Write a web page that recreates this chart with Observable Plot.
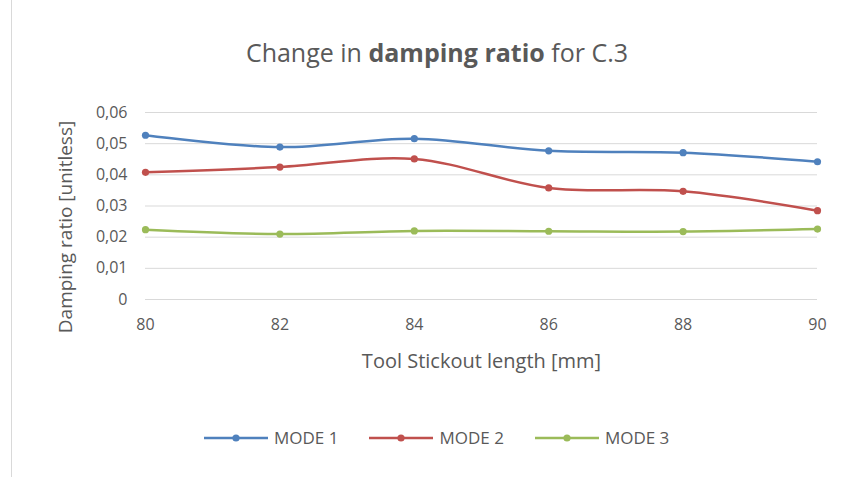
<!DOCTYPE html>
<html><head><meta charset="utf-8">
<script src="https://cdn.jsdelivr.net/npm/d3@7"></script>
<script src="https://cdn.jsdelivr.net/npm/@observablehq/plot@0.6"></script>
<style>
body{margin:0;background:#fff;font-family:"Open Sans",sans-serif;}
#wrap{position:relative;width:852px;height:477px;overflow:hidden;}
#border{position:absolute;left:11px;top:0;width:1px;height:477px;background:#d9d9d9;}
#title{position:absolute;top:35px;left:11px;width:852px;text-align:center;font-size:25px;line-height:34px;color:#595959;}
#chart{position:absolute;top:85px;left:0;}
#legend{position:absolute;top:426px;left:204px;display:flex;gap:31px;font-size:17px;line-height:24px;color:#595959;}
.item{display:flex;align-items:center;gap:6px;}
</style></head><body>
<div id="wrap"><div id="border"></div>
<div id="title">Change in <b>damping ratio</b> for C.3</div>
<div id="chart"></div>
<div id="legend"></div>
</div>
<script>
const lengths = [80, 82, 84, 86, 88, 90];
const mode1 = [0.0527, 0.0489, 0.0516, 0.0477, 0.0471, 0.0442];
const mode2 = [0.0408, 0.0425, 0.0451, 0.0358, 0.0347, 0.0285];
const mode3 = [0.0224, 0.0210, 0.0220, 0.0219, 0.0218, 0.0226];
const seriesNames = ["MODE 1", "MODE 2", "MODE 3"];
const colors = ["#4F81BD", "#C0504D", "#9BBB59"];
const yTicks = [0, 0.01, 0.02, 0.03, 0.04, 0.05, 0.06];
const xTicks = [80, 82, 84, 86, 88, 90];

const all = [mode1, mode2, mode3];
const data = [];
all.forEach((arr, i) => arr.forEach((v, j) => data.push({x: lengths[j], y: v, s: seriesNames[i]})));

const fmt = d => d === 0 ? "0" : d.toFixed(2).replace(".", ",");

const chart = Plot.plot({
  width: 852, height: 310,
  marginLeft: 145, marginRight: 35, marginTop: 27, marginBottom: 96,
  style: {fontFamily: "Open Sans, sans-serif", fontSize: "16px", color: "#595959", background: "transparent", overflow: "visible"},
  x: {domain: [80, 90], ticks: xTicks, tickSize: 0, tickPadding: 19, label: "Tool Stickout length [mm]", labelAnchor: "center", labelOffset: 68, tickFormat: d => String(d)},
  y: {domain: [0, 0.06], ticks: yTicks, tickSize: 0, tickPadding: 18, tickFormat: fmt, label: "Damping ratio [unitless]", labelAnchor: "center", labelOffset: 87},
  color: {domain: seriesNames, range: colors},
  marks: [
    Plot.gridY(yTicks, {stroke: "#d9d9d9", strokeOpacity: 1, strokeWidth: 1}),
    Plot.line(data, {x: "x", y: "y", stroke: "s", z: "s", strokeWidth: 2.5, curve: "catmull-rom"}),
    Plot.dot(data, {x: "x", y: "y", fill: "s", r: 3.6})
  ]
});
chart.querySelectorAll("g[aria-label='x-axis label'] text").forEach(t => {
  t.style.fontSize = "20px";
  t.textContent = t.textContent.replace(/[\u2191\u2192\u2190\u2193]/g, "").trim();
});
chart.querySelectorAll("g[aria-label='y-axis label'] text").forEach(t => {
  t.style.fontSize = "19px";
  t.textContent = t.textContent.replace(/[\u2191\u2192\u2190\u2193]/g, "").trim();
});
const yl = chart.querySelector("g[aria-label='y-axis label']");
if (yl) yl.setAttribute("transform", (yl.getAttribute("transform") || "") + " translate(0,21)");
document.getElementById("chart").appendChild(chart);

const legend = document.getElementById("legend");
seriesNames.forEach((n, i) => {
  const it = document.createElement("div");
  it.className = "item";
  it.innerHTML = `<svg width="64" height="10"><line x1="0" x2="64" y1="5" y2="5" stroke="${colors[i]}" stroke-width="2.5"/><circle cx="32" cy="5" r="3.6" fill="${colors[i]}"/></svg><span>${n}</span>`;
  legend.appendChild(it);
});
</script>
</body></html>
